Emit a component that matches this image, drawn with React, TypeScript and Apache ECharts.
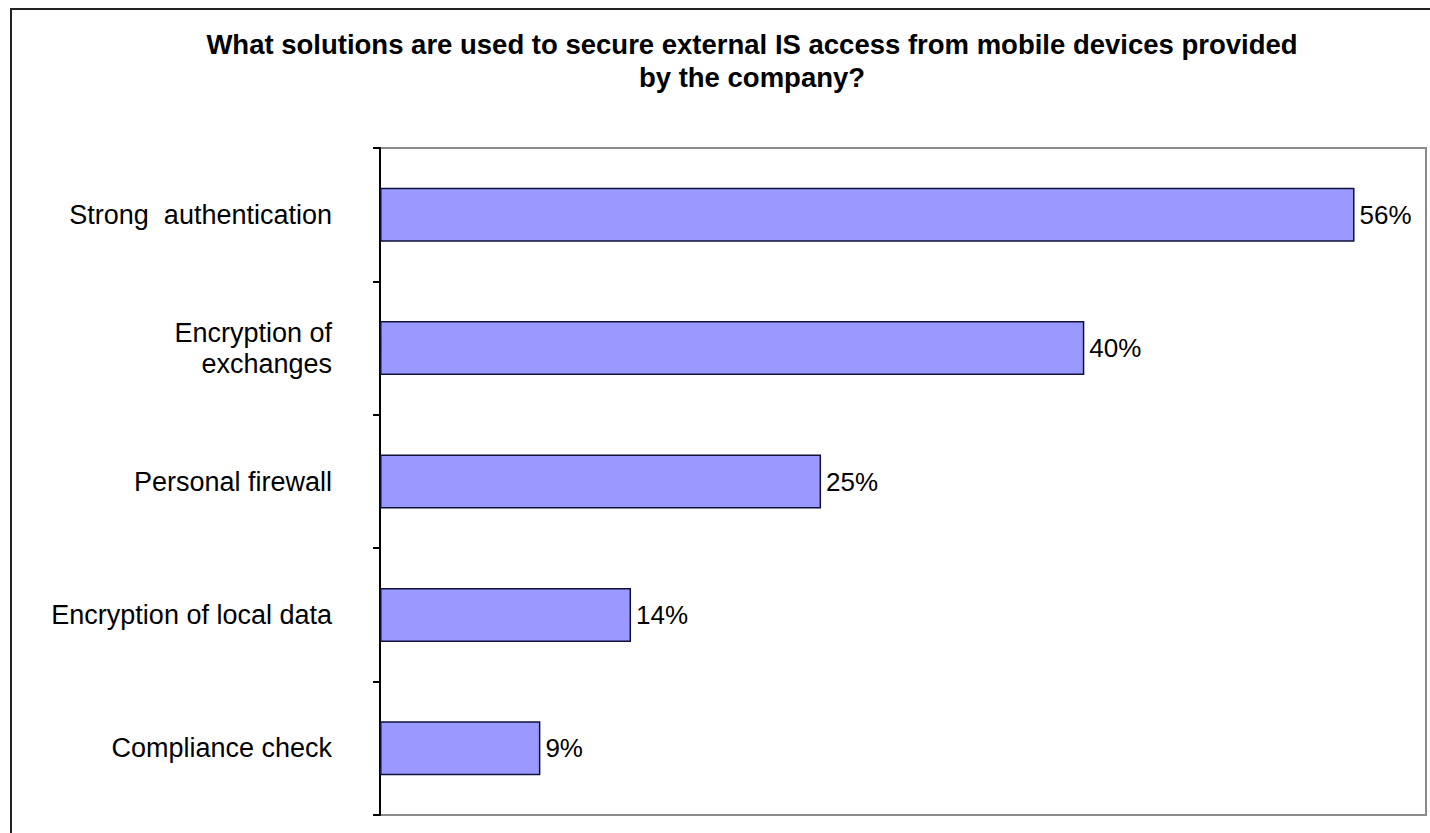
import React, { useEffect, useRef } from "react";
import * as echarts from "echarts";

const TITLE = "What solutions are used to secure external IS access from mobile devices provided\nby the company?";
const categories = [
  "Strong  authentication",
  "Encryption of\nexchanges",
  "Personal firewall",
  "Encryption of local data",
  "Compliance check",
];
const values = [55.9, 40.4, 25.3, 14.4, 9.2];
const AXIS_MAX = 60;

export default function App() {
  const ref = useRef<HTMLDivElement>(null);
  useEffect(() => {
    if (!ref.current) return;
    const chart = echarts.init(ref.current, null, { renderer: "svg" });
    chart.setOption({
      animation: false,
      backgroundColor: "#ffffff",
      textStyle: { fontFamily: "Liberation Sans, Arial, sans-serif" },
      title: {
        text: TITLE,
        left: 747,
        textAlign: "center",
        top: 23,
        textStyle: {
          fontFamily: "Liberation Sans, Arial, sans-serif",
          fontWeight: "bold",
          fontSize: 27.5,
          lineHeight: 33,
          color: "#000",
        },
      },
      graphic: [
        {
          type: "polyline",
          shape: { points: [[11, 840], [11, 9], [1440, 9]] },
          style: { fill: "none", stroke: "#222", lineWidth: 2 },
          silent: true,
          z: -1,
        },
      ],
      grid: {
        left: 380,
        top: 148,
        width: 1046,
        height: 667,
        show: true,
        borderColor: "#8a8a8a",
        borderWidth: 2,
        backgroundColor: "transparent",
      },
      xAxis: {
        type: "value",
        min: 0,
        max: AXIS_MAX,
        show: false,
      },
      yAxis: {
        type: "category",
        inverse: true,
        data: categories,
        boundaryGap: true,
        axisLine: { show: true, lineStyle: { color: "#000", width: 2 } },
        axisTick: { show: true, length: 7, lineStyle: { color: "#000", width: 2 } },
        axisLabel: {
          margin: 48,
          fontSize: 27,
          color: "#000",
          lineHeight: 31,
          align: "right",
        },
        splitLine: { show: false },
      },
      series: [
        {
          type: "bar",
          data: values,
          barWidth: 54,
          itemStyle: { color: "#9999ff", borderColor: "#10103a", borderWidth: 1.5 },
          label: {
            show: true,
            position: "right",
            distance: 5,
            fontSize: 26,
            color: "#000",
            formatter: (p: any) => Math.round(p.value) + "%",
          },
        },
      ],
    });
    return () => chart.dispose();
  }, []);
  return (
    <div
      ref={ref}
      style={{ position: "absolute", left: 0, top: 0, width: 1430, height: 833 }}
    />
  );
}
